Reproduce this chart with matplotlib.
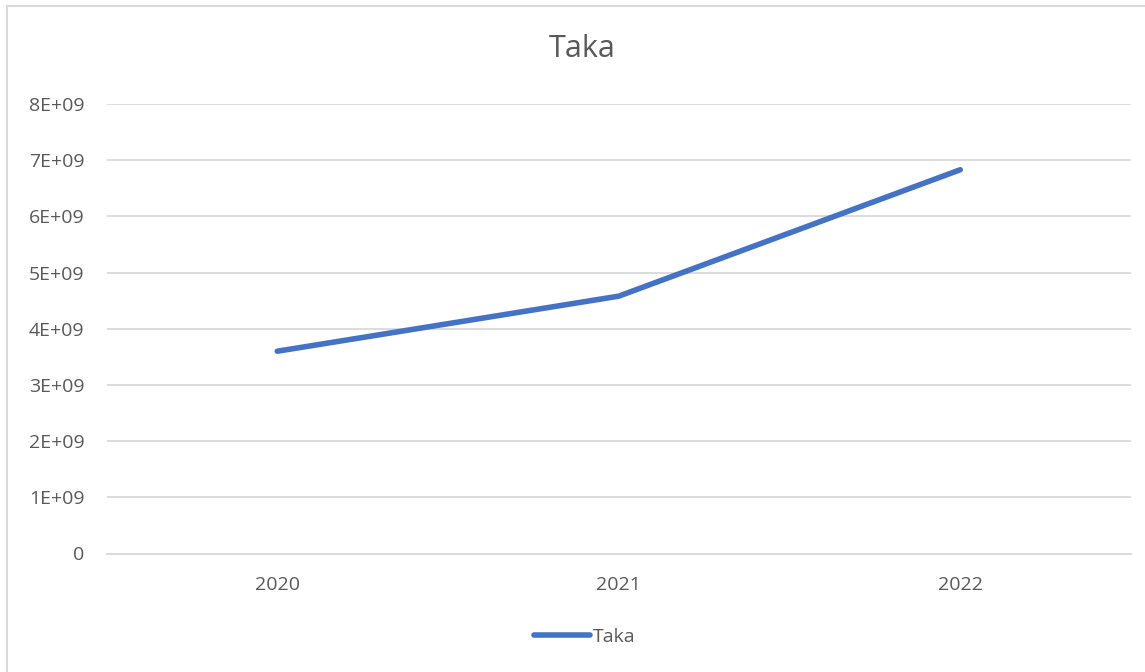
import matplotlib.pyplot as plt
from matplotlib.patches import Rectangle

# Data
years = ["2020", "2021", "2022"]
taka = [3.60e9, 4.58e9, 6.83e9]
y_ticks = [0, 1e9, 2e9, 3e9, 4e9, 5e9, 6e9, 7e9, 8e9]
y_labels = ["0", "1E+09", "2E+09", "3E+09", "4E+09", "5E+09", "6E+09", "7E+09", "8E+09"]

plt.rcParams['font.family'] = ['Open Sans', 'DejaVu Sans']
text_color = "#595959"
grid_color = "#D9D9D9"

W, H = 1145, 672
fig = plt.figure(figsize=(W / 100, H / 100), dpi=100, facecolor='white')
ax = fig.add_axes([106.5 / W, 1 - 553.5 / H, (1131 - 106.5) / W, (553.5 - 104) / H])

x = range(len(years))
line, = ax.plot(x, taka, color="#4472C4", linewidth=4, solid_capstyle='round',
                solid_joinstyle='round', label="Taka")

ax.set_xlim(-0.5, 2.5)
ax.set_ylim(0, 8e9)
ax.set_xticks(list(x))
ax.set_xticklabels(years)
ax.set_yticks(y_ticks)
ax.set_yticklabels(y_labels)
ax.tick_params(axis='both', length=0, labelsize=14, labelcolor=text_color)
ax.tick_params(axis='x', pad=16)
ax.tick_params(axis='y', pad=16)

# Grid
ax.grid(axis='y', color=grid_color, linewidth=1.3)
ax.set_axisbelow(True)
for side in ['top', 'right', 'left']:
    ax.spines[side].set_visible(False)
ax.spines['bottom'].set_color(grid_color)
ax.spines['bottom'].set_linewidth(1.3)

# Title and legend
fig.text(582 / W, 1 - 49 / H, "Taka", ha='center', va='center', fontsize=22, color=text_color)
fig.legend(handles=[line], loc='center', bbox_to_anchor=(585 / W, 1 - 637 / H), frameon=False,
           fontsize=14, labelcolor=text_color, handlelength=2.9, handletextpad=0.15)

# Chart border (only left/top visible in the crop)
fig.add_artist(Rectangle((6.5 / W, -0.1), 1.2, 1.1 - 6 / H, transform=fig.transFigure,
                         fill=False, edgecolor="#D9D9D9", linewidth=1.5))

fig.savefig("out.png", dpi=100, facecolor='white')
